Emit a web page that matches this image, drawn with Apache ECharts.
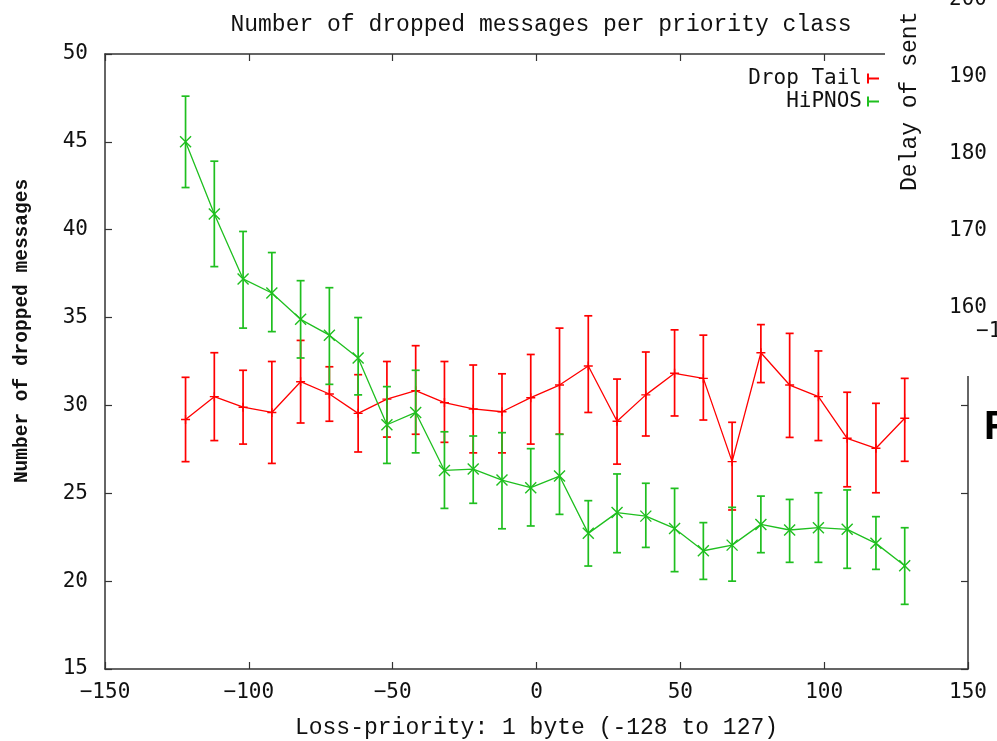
<!DOCTYPE html>
<html>
<head>
<meta charset="utf-8">
<script src="https://cdn.jsdelivr.net/npm/echarts@6/dist/echarts.min.js"></script>
<style>
  html, body { margin: 0; padding: 0; background: #fff; }
  #content { width: 997px; height: 741px; }
</style>
</head>
<body>
<div id="content"></div>
<script>
// loss-priority buckets (x)
var xValues = [-122, -112, -102, -92, -82, -72, -62, -52, -42, -32, -22, -12, -2,
               8, 18, 28, 38, 48, 58, 68, 78, 88, 98, 108, 118, 128];

// Drop Tail: mean and error bar ends
var dropTail = [29.2, 30.5, 29.9, 29.6, 31.35, 30.65, 29.55, 30.36, 30.84, 30.16, 29.8, 29.64, 30.44,
                31.16, 32.24, 29.1, 30.6, 31.83, 31.54, 26.8, 33.0, 31.16, 30.5, 28.13, 27.56, 29.27];
var dropTailLow = [26.8, 28.0, 27.8, 26.7, 29.0, 29.1, 27.35, 28.2, 28.36, 27.9, 27.3, 27.3, 27.8,
                   28.36, 29.6, 26.66, 28.26, 29.4, 29.17, 24.05, 31.3, 28.18, 28.0, 25.37, 25.03, 26.82];
var dropTailHigh = [31.6, 33.0, 32.0, 32.5, 33.7, 32.2, 31.75, 32.5, 33.4, 32.5, 32.3, 31.8, 32.9,
                    34.4, 35.1, 31.5, 33.04, 34.3, 34.0, 29.04, 34.6, 34.1, 33.1, 30.75, 30.12, 31.54];

// HiPNOS: mean and error bar ends
var hipnos = [45.0, 40.9, 37.2, 36.4, 34.9, 34.0, 32.7, 28.9, 29.6, 26.3, 26.38, 25.75, 25.32,
              25.98, 22.72, 23.9, 23.7, 23.0, 21.73, 22.05, 23.23, 22.91, 23.04, 22.95, 22.15, 20.88];
var hipnosLow = [42.4, 37.9, 34.4, 34.2, 32.7, 31.2, 30.6, 26.7, 27.3, 24.14, 24.43, 22.98, 23.14,
                 23.8, 20.86, 21.62, 21.92, 20.54, 20.1, 20.0, 21.62, 21.07, 21.07, 20.73, 20.67, 18.68];
var hipnosHigh = [47.6, 43.9, 39.9, 38.7, 37.1, 36.7, 35.0, 31.07, 32.0, 28.5, 28.26, 28.45, 27.54,
                  28.36, 24.58, 26.1, 25.57, 25.28, 23.33, 24.2, 24.84, 24.65, 25.03, 25.19, 23.67, 23.04];

// the clipped neighbour plot on the right
var sideTicks = ['200', '190', '180', '170', '160'];

var RED = '#ff0000';
var GREEN = '#1fbf1f';
var monoFont = 'DejaVu Sans Mono';

var myChart = echarts.init(document.getElementById('content'));

function pairs(ys) {
    return xValues.map(function (x, i) { return [x, ys[i]]; });
}
function bars(lo, hi) {
    return xValues.map(function (x, i) { return [x, lo[i], hi[i]]; });
}
function errorBars(color) {
    return function (params, api) {
        var top = api.coord([api.value(0), api.value(2)]);
        var bot = api.coord([api.value(0), api.value(1)]);
        var w = 4;
        var st = {stroke: color, lineWidth: 1.7};
        return {
            type: 'group',
            children: [
                {type: 'line', shape: {x1: top[0], y1: top[1], x2: bot[0], y2: bot[1]}, style: st},
                {type: 'line', shape: {x1: top[0] - w, y1: top[1], x2: top[0] + w, y2: top[1]}, style: st},
                {type: 'line', shape: {x1: bot[0] - w, y1: bot[1], x2: bot[0] + w, y2: bot[1]}, style: st}
            ]
        };
    };
}

var legendIcon = 'path://M0,0 H2 V4 H12 V6 H2 V10 H0 Z';

// y axis title, drawn by hand so it can sit above the middle like the original
var sideGraphics = [
    {
        type: 'text', x: 22, y: 331, rotation: Math.PI / 2,
        style: {text: 'Number of dropped messages', font: 'bold 19.5px "Liberation Mono"', fill: '#111',
                textAlign: 'center', textVerticalAlign: 'middle'}
    },
    // neighbour plot pieces
    {type: 'rect', shape: {x: 885, y: 0, width: 112, height: 376}, style: {fill: '#fff'}, z: 100}
];
sideTicks.forEach(function (t, i) {
    sideGraphics.push({
        type: 'text', x: 987, y: 0 + i * 76.8, z: 101,
        style: {text: t, font: '21px "DejaVu Sans Mono"', fill: '#111', textAlign: 'right', textVerticalAlign: 'middle'}
    });
});
sideGraphics.push({
    type: 'text', x: 976, y: 332, z: 101,
    style: {text: '\u2212150', font: '21px "DejaVu Sans Mono"', fill: '#111', textAlign: 'left', textVerticalAlign: 'middle'}
});
sideGraphics.push({
    type: 'text', x: 910, y: 191, rotation: Math.PI / 2, z: 101,
    style: {text: 'Delay of sent', font: '23px "Liberation Mono"', fill: '#111', textAlign: 'left', textVerticalAlign: 'middle'}
});
sideGraphics.push({
    type: 'text', x: 984, y: 428, z: 101,
    style: {text: 'F', font: 'bold 40px "Liberation Sans"', fill: '#000', textAlign: 'left', textVerticalAlign: 'middle'}
});

var axisLine = {show: true, onZero: false, lineStyle: {color: '#333', width: 1.5}};
var axisTick = {show: true, inside: true, length: 7, lineStyle: {color: '#333', width: 1.2}};

option = {
    backgroundColor: '#fff',
    animation: false,
    title: {
        text: 'Number of dropped messages per priority class',
        left: 536,
        top: 8,
        textAlign: 'center',
        textStyle: {fontFamily: 'Liberation Mono', fontSize: 23, fontWeight: 'normal', color: '#111'}
    },
    legend: {
        orient: 'vertical',
        right: 113,
        top: 62,
        align: 'right',
        itemWidth: 12,
        itemHeight: 10,
        itemGap: 0,
        textStyle: {fontFamily: monoFont, fontSize: 21, color: '#111', lineHeight: 23},
        data: [
            {name: 'Drop Tail', icon: legendIcon, itemStyle: {color: RED, borderWidth: 0}},
            {name: 'HiPNOS', icon: legendIcon, itemStyle: {color: GREEN, borderWidth: 0}}
        ]
    },
    grid: {left: 105, right: 29, top: 54, bottom: 72, outerBoundsMode: 'none'},
    xAxis: [
        {
            type: 'value', min: -150, max: 150, interval: 50,
            name: 'Loss-priority: 1 byte (-128 to 127)',
            nameLocation: 'middle', nameGap: 47,
            nameTextStyle: {fontFamily: 'Liberation Mono', fontSize: 23, color: '#111'},
            axisLine: axisLine, axisTick: axisTick, splitLine: {show: false},
            axisLabel: {fontFamily: monoFont, fontSize: 21, color: '#111', margin: 13,
                formatter: function (v) { return String(v).replace('-', '\u2212'); }}
        },
        {
            type: 'value', min: -150, max: 150, interval: 50, position: 'top',
            axisLine: axisLine, axisTick: axisTick, splitLine: {show: false}, axisLabel: {show: false}
        }
    ],
    yAxis: [
        {
            type: 'value', min: 15, max: 50, interval: 5,
            axisLine: axisLine, axisTick: axisTick, splitLine: {show: false},
            axisLabel: {fontFamily: monoFont, fontSize: 21, color: '#111', margin: 17}
        },
        {
            type: 'value', min: 15, max: 50, interval: 5, position: 'right',
            axisLine: axisLine, axisTick: axisTick, splitLine: {show: false}, axisLabel: {show: false}
        }
    ],
    graphic: sideGraphics,
    series: [
        {
            type: 'custom',
            name: 'Drop Tail bars',
            renderItem: errorBars(RED),
            encode: {x: 0, y: [1, 2]},
            data: bars(dropTailLow, dropTailHigh),
            z: 2
        },
        {
            type: 'line',
            name: 'Drop Tail',
            data: pairs(dropTail),
            symbol: 'path://M0,5 L10,5 M5,0 L5,10',
            symbolSize: 9,
            itemStyle: {color: 'rgba(0,0,0,0)', borderColor: RED, borderWidth: 1.4},
            lineStyle: {color: RED, width: 1.3},
            z: 3
        },
        {
            type: 'custom',
            name: 'HiPNOS bars',
            renderItem: errorBars(GREEN),
            encode: {x: 0, y: [1, 2]},
            data: bars(hipnosLow, hipnosHigh),
            z: 4
        },
        {
            type: 'line',
            name: 'HiPNOS',
            data: pairs(hipnos),
            symbol: 'path://M0,0 L10,10 M10,0 L0,10',
            symbolSize: 11,
            itemStyle: {color: 'rgba(0,0,0,0)', borderColor: GREEN, borderWidth: 1.4},
            lineStyle: {color: GREEN, width: 1.3},
            z: 5
        }
    ]
};
myChart.setOption(option);
</script>
</body>
</html>
